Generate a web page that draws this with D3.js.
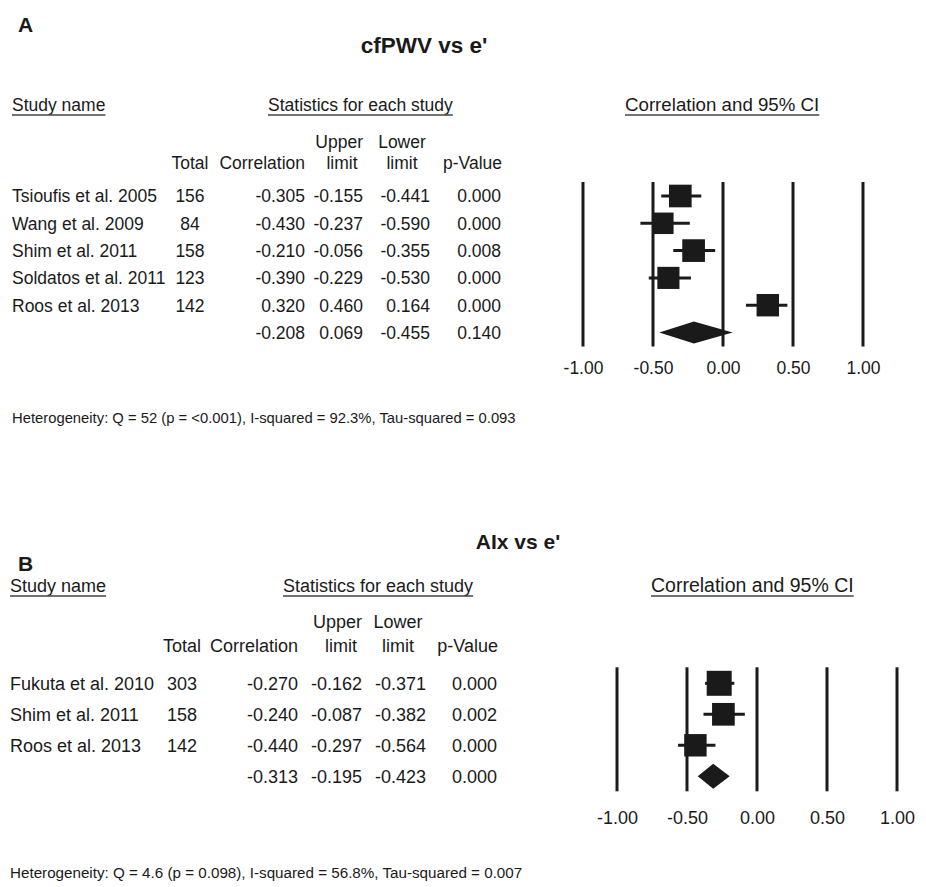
<!DOCTYPE html>
<html>
<head>
<meta charset="utf-8">
<script src="https://cdn.jsdelivr.net/npm/d3@7"></script>
<style>
  body { margin: 0; background: #fff; }
  svg { display: block; font-family: "Liberation Sans", Arial, sans-serif; }
</style>
</head>
<body>
<svg id="chart" width="926" height="887"></svg>
<script>
// Panel A: cfPWV vs e'
const studiesA = ["Tsioufis et al. 2005", "Wang et al. 2009", "Shim et al. 2011", "Soldatos et al. 2011", "Roos et al. 2013"];
const totalA = [156, 84, 158, 123, 142];
const corrA = [-0.305, -0.430, -0.210, -0.390, 0.320];
const upperA = [-0.155, -0.237, -0.056, -0.229, 0.460];
const lowerA = [-0.441, -0.590, -0.355, -0.530, 0.164];
const pA = ["0.000", "0.000", "0.008", "0.000", "0.000"];
const summaryA = { corr: -0.208, upper: 0.069, lower: -0.455, p: "0.140" };
const hetA = "Heterogeneity: Q = 52 (p = <0.001), I-squared = 92.3%, Tau-squared = 0.093";

// Panel B: AIx vs e'
const studiesB = ["Fukuta et al. 2010", "Shim et al. 2011", "Roos et al. 2013"];
const totalB = [303, 158, 142];
const corrB = [-0.270, -0.240, -0.440];
const upperB = [-0.162, -0.087, -0.297];
const lowerB = [-0.371, -0.382, -0.564];
const pB = ["0.000", "0.002", "0.000"];
const summaryB = { corr: -0.313, upper: -0.195, lower: -0.423, p: "0.000" };
const hetB = "Heterogeneity: Q = 4.6 (p = 0.098), I-squared = 56.8%, Tau-squared = 0.007";

const ticks = [-1, -0.5, 0, 0.5, 1];
const ink = "#1a1a1a";

const svg = d3.select("#chart");
const hyph = f => v => f(v).replace("\u2212", "-");

function underlined(g, x, y, text, size) {
  const t = g.append("text").attr("x", x).attr("y", y)
    .attr("font-size", size).attr("fill", ink).text(text);
  const w = t.node().getComputedTextLength();
  g.append("line").attr("x1", x).attr("x2", x + w)
    .attr("y1", y + 4).attr("y2", y + 4)
    .attr("stroke", "#444").attr("stroke-width", 1.5);
}

function drawPanel(p) {
  const g = svg.append("g");
  const fs = p.fs;
  const fmt = hyph(d3.format(".3f"));
  const x = d3.scaleLinear().domain([-1, 1]).range(p.axisRange);
  const n = p.studies.length;
  const y = i => p.row0 + i * p.rowStep;
  const size = d3.scaleLinear().domain([84, 303]).range([21.5, 25]);

  g.append("text").attr("x", 18).attr("y", p.letterY)
    .attr("font-size", 21).attr("font-weight", "bold").attr("fill", ink).text(p.letter);
  g.append("text").attr("x", p.titleX).attr("y", p.titleY).attr("text-anchor", "middle")
    .attr("font-size", p.titleSize).attr("font-weight", "bold").attr("fill", ink).text(p.title);

  underlined(g, p.col.name, p.headY, "Study name", fs);
  underlined(g, p.statsX, p.headY, "Statistics for each study", fs);
  underlined(g, p.ciX, p.headY, "Correlation and 95% CI", p.ciSize);

  const hdr = (txt, xx, yy, anchor) => g.append("text").attr("x", xx).attr("y", yy)
    .attr("text-anchor", anchor).attr("font-size", fs).attr("fill", ink).text(txt);
  hdr("Upper", p.col.upper, p.hdr1Y, "end");
  hdr("Lower", p.col.lower - 28, p.hdr1Y, "middle");
  hdr("Total", p.col.total, p.hdr2Y, "middle");
  hdr("Correlation", p.col.corr, p.hdr2Y, "end");
  hdr("limit", p.col.upper - 21, p.hdr2Y, "middle");
  hdr("limit", p.col.lower - 28, p.hdr2Y, "middle");
  hdr("p-Value", p.col.p + 1, p.hdr2Y, "end");

  const rows = p.studies.map((s, i) => ({
    name: s, total: p.total[i], corr: p.corr[i], upper: p.upper[i], lower: p.lower[i], p: p.p[i], y: y(i)
  }));
  const all = rows.concat([{ name: "", total: "", corr: p.summary.corr, upper: p.summary.upper,
    lower: p.summary.lower, p: p.summary.p, y: y(n), summary: true }]);

  const cell = (key, xx, anchor, f) => g.selectAll(null).data(all).join("text")
    .attr("x", xx).attr("y", d => d.y + fs * 0.36).attr("text-anchor", anchor)
    .attr("font-size", fs).attr("fill", ink).text(d => f(d[key]));
  cell("name", p.col.name, "start", v => v);
  cell("total", p.col.total, "middle", v => v);
  cell("corr", p.col.corr, "end", fmt);
  cell("upper", p.col.upper, "end", fmt);
  cell("lower", p.col.lower, "end", fmt);
  cell("p", p.col.p, "end", v => v);

  // reference lines
  g.selectAll(null).data(ticks).join("line")
    .attr("x1", d => x(d)).attr("x2", d => x(d))
    .attr("y1", y(0) + p.lineTop).attr("y2", y(n) + p.lineBottom)
    .attr("stroke", ink).attr("stroke-width", 3);

  // axis labels
  const ax = g.append("g").attr("transform", `translate(0,${p.tickY})`)
    .call(d3.axisBottom(x).tickValues(ticks).tickFormat(hyph(d3.format(".2f"))).tickSize(0).tickPadding(0));
  ax.select(".domain").remove();
  ax.selectAll("text").attr("font-size", fs).attr("fill", ink)
    .attr("font-family", "Liberation Sans, Arial, sans-serif").attr("dy", 0);

  // CI whiskers
  g.selectAll(null).data(rows).join("line")
    .attr("x1", d => x(d.lower)).attr("x2", d => x(d.upper))
    .attr("y1", d => d.y).attr("y2", d => d.y)
    .attr("stroke", ink).attr("stroke-width", 3);

  // study squares
  g.selectAll(null).data(rows).join("rect")
    .attr("x", d => x(d.corr) - size(d.total) / 2)
    .attr("y", d => d.y - size(d.total) / 2)
    .attr("width", d => size(d.total)).attr("height", d => size(d.total))
    .attr("fill", ink);

  // summary diamond
  const s = p.summary, yd = y(n), h = p.diamondH / 2;
  g.append("path")
    .attr("d", `M${x(s.lower)},${yd}L${x(s.corr)},${yd - h}L${x(s.upper)},${yd}L${x(s.corr)},${yd + h}Z`)
    .attr("fill", ink);

  g.append("text").attr("x", p.col.name).attr("y", p.hetY)
    .attr("font-size", p.hetSize).attr("fill", ink).text(p.het);
}

drawPanel({
  letter: "A", letterY: 32, title: "cfPWV vs e'", titleX: 424, titleY: 53, titleSize: 22.5,
  studies: studiesA, total: totalA, corr: corrA, upper: upperA, lower: lowerA, p: pA,
  summary: summaryA, het: hetA, fs: 17.5, ciSize: 18.7, hetSize: 14.8,
  headY: 111, statsX: 268, ciX: 625, hdr1Y: 148, hdr2Y: 168.5,
  col: { name: 12, total: 190, corr: 305, upper: 363, lower: 430, p: 501 },
  row0: 196, rowStep: 27.3, axisRange: [583, 863], lineTop: -14, lineBottom: 14,
  tickY: 374, diamondH: 22, hetY: 423
});

drawPanel({
  letter: "B", letterY: 571, title: "AIx vs e'", titleX: 518, titleY: 549, titleSize: 21,
  studies: studiesB, total: totalB, corr: corrB, upper: upperB, lower: lowerB, p: pB,
  summary: summaryB, het: hetB, fs: 18, ciSize: 19.5, hetSize: 15.2,
  headY: 592, statsX: 283, ciX: 651, hdr1Y: 628, hdr2Y: 651.5,
  col: { name: 10, total: 182, corr: 298, upper: 362, lower: 426, p: 497 },
  row0: 683.3, rowStep: 31, axisRange: [617, 897], lineTop: -16, lineBottom: 15,
  tickY: 824, diamondH: 25, hetY: 878
});
</script>
</body>
</html>
